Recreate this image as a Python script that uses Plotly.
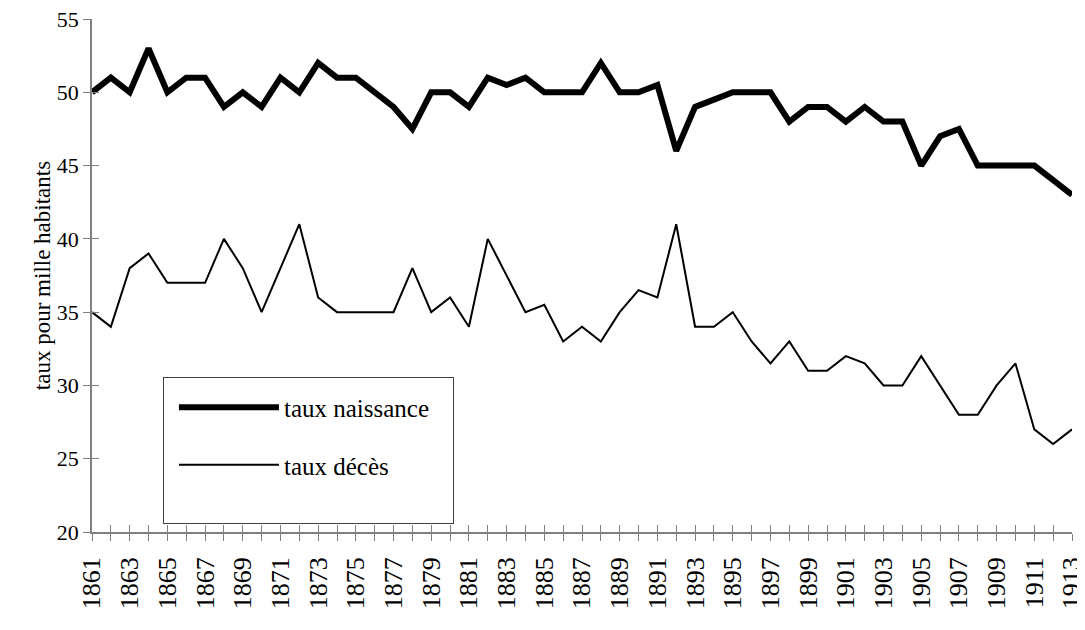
import plotly.graph_objects as go

years = list(range(1861, 1914))
naissance = [50, 51, 50, 53, 50, 51, 51, 49, 50, 49,
             51, 50, 52, 51, 51, 50, 49, 47.5, 50, 50,
             49, 51, 50.5, 51, 50, 50, 50, 52, 50, 50,
             50.5, 46, 49, 49.5, 50, 50, 50, 48, 49, 49,
             48, 49, 48, 48, 45, 47, 47.5, 45, 45, 45,
             45, 44, 43]
deces = [35, 34, 38, 39, 37, 37, 37, 40, 38, 35,
         38, 41, 36, 35, 35, 35, 35, 38, 35, 36,
         34, 40, 37.5, 35, 35.5, 33, 34, 33, 35, 36.5,
         36, 41, 34, 34, 35, 33, 31.5, 33, 31, 31,
         32, 31.5, 30, 30, 32, 30, 28, 28, 30, 31.5,
         27, 26, 27]
series_names = ["taux naissance", "taux décès"]
tick_text = [str(y) if (y - 1861) % 2 == 0 else "" for y in years]
y_ticks = [20, 25, 30, 35, 40, 45, 50, 55]

FONT = "'Times New Roman', 'Liberation Serif', 'DejaVu Serif', serif"
AX = "#808080"
PAD = "\u00a0" * 3  # widens the legend box to the reference's width

fig = go.Figure()
fig.add_trace(go.Scatter(x=years, y=naissance, mode="lines", name=series_names[0] + PAD,
                         line=dict(color="black", width=6), legendgroup="a"))
fig.add_trace(go.Scatter(x=years, y=deces, mode="lines", name=series_names[1],
                         line=dict(color="black", width=2), legendgroup="b"))
# spacer entry giving the legend box its bottom padding
fig.add_trace(go.Scatter(x=[None], y=[None], mode="lines", name=" ",
                         line=dict(color="rgba(0,0,0,0)", width=0),
                         legendgroup="b", hoverinfo="skip"))
# carrier for the overlaid axes that draw the inner half of each tick
fig.add_trace(go.Scatter(x=[None], y=[None], xaxis="x2", yaxis="y2",
                         showlegend=False, hoverinfo="skip"))

fig.update_layout(
    width=1077, height=622,
    margin=dict(l=84, r=13, t=11, b=98),
    paper_bgcolor="white", plot_bgcolor="white",
    font=dict(family=FONT, size=22, color="black"),
    showlegend=True,
    legend=dict(x=0.0724, y=0.302, xanchor="left", yanchor="top",
                bordercolor="#404040", borderwidth=1, bgcolor="white",
                font=dict(family=FONT, size=25), itemwidth=100,
                indentation=10,
                traceorder="grouped", tracegroupgap=22,
                title=dict(text=" ", font=dict(family=FONT, size=5))),
    xaxis=dict(range=[1861, 1913], tickvals=years, ticktext=tick_text,
               tickangle=-90, ticks="outside", ticklen=7, tickcolor=AX,
               showline=True, linecolor=AX, linewidth=1.5, showgrid=False,
               zeroline=False, automargin=False, ticklabelstandoff=6,
               ticklabeloverflow="allow",
               tickfont=dict(family=FONT, size=26)),
    xaxis2=dict(range=[1861, 1913], tickvals=years, overlaying="x", anchor="y2",
                side="bottom", ticks="inside", ticklen=7, tickcolor=AX,
                showticklabels=False, showline=False, showgrid=False,
                zeroline=False, automargin=False),
    yaxis=dict(range=[20, 55], tickvals=y_ticks, ticks="outside", ticklen=7,
               tickcolor=AX, showline=True, linecolor=AX, linewidth=1.5,
               showgrid=False, zeroline=False, automargin=False,
               ticklabeloverflow="allow",
               tickfont=dict(family=FONT, size=22),
               title=dict(text="taux pour mille habitants", standoff=0,
                          font=dict(family=FONT, size=23))),
    yaxis2=dict(range=[20, 55], tickvals=y_ticks, overlaying="y", anchor="x2",
                side="left", ticks="inside", ticklen=7, tickcolor=AX,
                showticklabels=False, showline=False, showgrid=False,
                zeroline=False, automargin=False),
)

fig.write_html("out.html")
